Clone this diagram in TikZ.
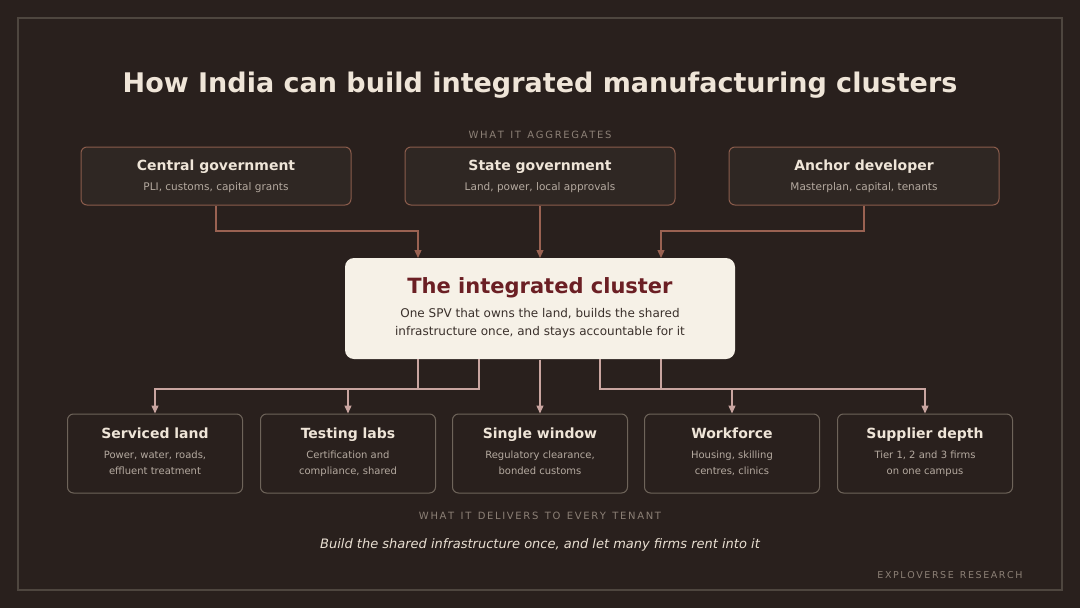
\documentclass[tikz,border=0pt]{standalone}
\usepackage{fontspec}
\setmainfont{DejaVu Sans}
\usetikzlibrary{arrows.meta}
\definecolor{bg}{HTML}{29201D}
\definecolor{frame}{HTML}{4E463F}
\definecolor{topfill}{HTML}{2F2723}
\definecolor{topline}{HTML}{8A5C4C}
\definecolor{botline}{HTML}{6E645A}
\definecolor{toparr}{HTML}{9A6252}
\definecolor{botarr}{HTML}{C9A5A0}
\definecolor{head}{HTML}{EFE5D8}
\definecolor{sub}{HTML}{B5AAA0}
\definecolor{cap}{HTML}{8C8076}
\definecolor{clfill}{HTML}{F6F1E7}
\definecolor{cltitle}{HTML}{6B1F24}
\definecolor{cltext}{HTML}{3A302B}
\begin{document}
\begin{tikzpicture}[x=1pt,y=-1pt,
 box/.style={draw,rounded corners=6pt,line width=1pt,minimum height=58pt,minimum width=270pt},
 tb/.style={box,draw=topline,fill=topfill},
 bb/.style={box,draw=botline,fill=bg,minimum width=175pt,minimum height=79pt},
 ta/.style={draw=toparr,line width=1.3pt,-{Triangle[length=8pt,width=7pt]}},
 ba/.style={draw=botarr,line width=1.3pt,-{Triangle[length=8pt,width=7pt]}},
 hd/.style={anchor=base,text=head,font=\bfseries\fontsize{14}{16}\selectfont},
 sb/.style={anchor=base,text=sub,font=\fontsize{10.5}{16}\selectfont,align=center},
 cp/.style={anchor=base,text=cap,font=\fontsize{10}{12}\selectfont}]
\fill[bg] (0,0) rectangle (1080,608);
\draw[frame,line width=1.5pt] (18,18) rectangle (1062,590);
\node[anchor=base,text=head,font=\bfseries\fontsize{27}{30}\selectfont] (title) at (540,92) {How India can build integrated manufacturing clusters};
\node[cp] (agg) at (540,138) {W\,H\,A\,T\ \ I\,T\ \ A\,G\,G\,R\,E\,G\,A\,T\,E\,S};
\foreach \n/\x/\h/\s in {c/216/Central government/{PLI, customs, capital grants},s/540/State government/{Land, power, local approvals},a/864/Anchor developer/{Masterplan, capital, tenants}}{
 \node[tb] (\n) at (\x,176) {};
 \node[hd] at (\x,170) {\h};
 \node[sb] at (\x,190.5) {\s};
}
\node[box,draw=none,fill=clfill,minimum width=390pt,minimum height=101pt,rounded corners=9pt] (cl) at (540,308.5) {};
\node[anchor=base,text=cltitle,font=\bfseries\fontsize{21}{24}\selectfont] at (540,293) {The integrated cluster};
\node[anchor=base,text=cltext,font=\fontsize{12}{18}\selectfont,align=center] at (540,335.5) {One SPV that owns the land, builds the shared\\infrastructure once, and stays accountable for it};
\coordinate (ci1) at (418,258); \coordinate (ci3) at (661,258);
\draw[ta] (c.south) |- (216,231) -| (ci1);
\draw[ta] (s.south) -- (540,258);
\draw[ta] (a.south) |- (864,231) -| (ci3);
\foreach \n/\x/\h/\s in {b1/155/Serviced land/{Power, water, roads,\\effluent treatment},b2/348/Testing labs/{Certification and\\compliance, shared},b3/540/Single window/{Regulatory clearance,\\bonded customs},b4/732/Workforce/{Housing, skilling\\centres, clinics},b5/925/Supplier depth/{Tier 1, 2 and 3 firms\\on one campus}}{
 \node[bb] (\n) at (\x,453.5) {};
 \node[hd] at (\x,438) {\h};
 \node[sb,font=\fontsize{10}{16}\selectfont] at (\x,474) {\s};
}
\coordinate (o1) at (418,359); \coordinate (o2) at (479,359);
\coordinate (o4) at (600,359); \coordinate (o5) at (661,359);
\draw[ba] (o1) -- (418,389) -| (b1.north);
\draw[ba] (o2) -- (479,389) -| (b2.north);
\draw[ba] (cl.south) -- (b3.north);
\draw[ba] (o4) -- (600,389) -| (b4.north);
\draw[ba] (o5) -- (661,389) -| (b5.north);
\node[cp] (del) at (540,519) {W\,H\,A\,T\ \ I\,T\ \ D\,E\,L\,I\,V\,E\,R\,S\ \ T\,O\ \ E\,V\,E\,R\,Y\ \ T\,E\,N\,A\,N\,T};
\node[anchor=base,text=head!90!sub,font=\itshape\fontsize{13}{16}\selectfont] (tag) at (540,548.5) {Build the shared infrastructure once, and let many firms rent into it};
\node[cp,anchor=base east,font=\fontsize{9.5}{12}\selectfont] (br) at (1026,578) {E\,X\,P\,L\,O\,V\,E\,R\,S\,E\ \ R\,E\,S\,E\,A\,R\,C\,H};
\end{tikzpicture}
\end{document}
